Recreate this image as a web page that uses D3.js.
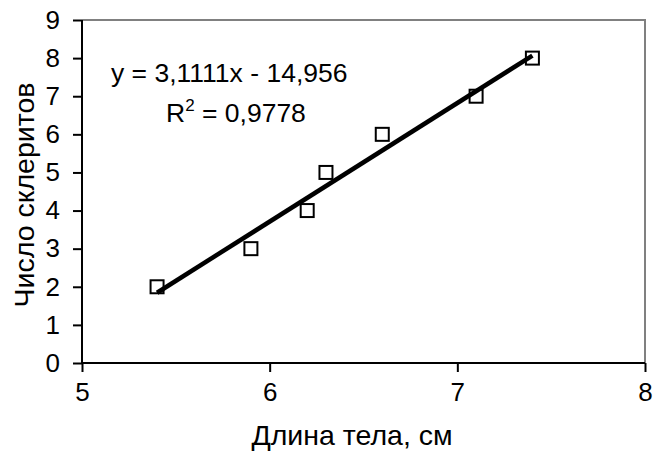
<!DOCTYPE html>
<html><head><meta charset="utf-8">
<script src="https://cdn.jsdelivr.net/npm/d3@7"></script>
<style>body{margin:0;background:#fff}svg{display:block}text{font-family:"Liberation Sans",Arial,sans-serif;fill:#000}</style>
</head><body>
<svg id="c" width="653" height="453"></svg>
<script>
const xValues = [5.4, 5.9, 6.2, 6.3, 6.6, 7.1, 7.4];
const yValues = [2, 3, 4, 5, 6, 7, 8];
const xTicks = [5, 6, 7, 8];
const yTicks = [0, 1, 2, 3, 4, 5, 6, 7, 8, 9];
const trendSlope = 3.1111;
const trendIntercept = -14.956;
const equationText = "y = 3,1111x - 14,956";
const r2Value = "0,9778";
const xTitle = "Длина тела, см";
const yTitle = "Число склеритов";

const svg = d3.select("#c");
const L = 82, R = 645, T = 20, B = 363;
const x = d3.scaleLinear().domain([5, 8]).range([L, R]);
const y = d3.scaleLinear().domain([0, 9]).range([B, T]);

svg.append("path").attr("d", `M${L},${T}H${R}V${B}`).attr("fill","none").attr("stroke","#808080").attr("stroke-width",2);

const yAxis = d3.axisLeft(y).tickValues(yTicks).tickSize(9).tickPadding(13).tickFormat(d3.format("d"));
const gy = svg.append("g").attr("transform", `translate(${L},0)`).call(yAxis);
const xAxis = d3.axisBottom(x).tickValues(xTicks).tickSize(9).tickPadding(11).tickFormat(d3.format("d"));
const gx = svg.append("g").attr("transform", `translate(0,${B})`).call(xAxis);
[gx, gy].forEach(g => {
  g.select(".domain").attr("stroke","#000").attr("stroke-width",2);
  g.selectAll(".tick line").attr("stroke","#000").attr("stroke-width",2);
  g.selectAll(".tick text").style("font-size","26px").attr("font-family","Liberation Sans, Arial, sans-serif");
});
gy.select(".domain").attr("d", `M0,${T}V${B}`);
gx.select(".domain").attr("d", `M${L},0H${R}`);

svg.append("g").selectAll("rect").data(xValues).join("rect")
  .attr("x", (d) => x(d) - 6.5)
  .attr("y", (d, i) => y(yValues[i]) - 6.5)
  .attr("width", 13).attr("height", 13)
  .attr("fill", "#fff").attr("stroke", "#000").attr("stroke-width", 2);

const tx = d3.extent(xValues);
svg.append("line")
  .attr("x1", x(tx[0])).attr("y1", y(trendSlope * tx[0] + trendIntercept))
  .attr("x2", x(tx[1])).attr("y2", y(trendSlope * tx[1] + trendIntercept))
  .attr("stroke", "#000").attr("stroke-width", 4.5);

svg.append("text").attr("x", 111).attr("y", 82).style("font-size","26.5px").text(equationText);
const r2 = svg.append("text").attr("x", 166).attr("y", 122).style("font-size","26.5px");
r2.append("tspan").text("R");
r2.append("tspan").attr("dy", -11).style("font-size","17px").text("2");
r2.append("tspan").attr("dy", 11).text(" = " + r2Value);

svg.append("text").attr("x", 352).attr("y", 445).attr("text-anchor","middle").style("font-size","28.5px").text(xTitle);
svg.append("text").attr("transform","translate(34,195) rotate(-90)").attr("text-anchor","middle").style("font-size","28.5px").text(yTitle);
</script>
</body></html>
